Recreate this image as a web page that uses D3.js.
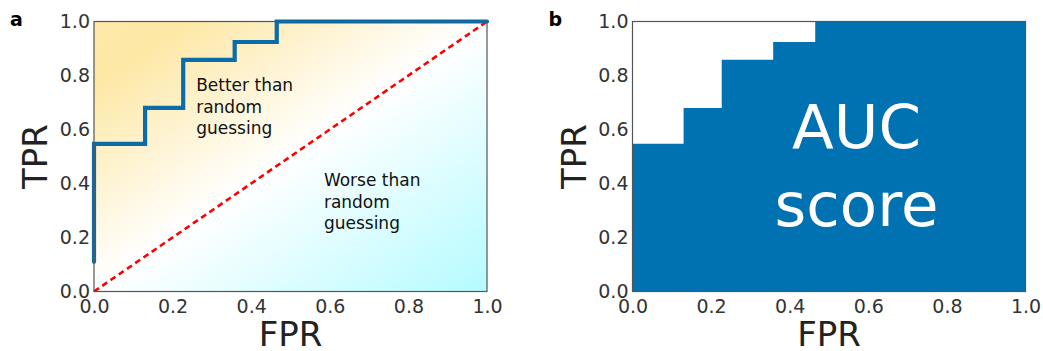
<!DOCTYPE html>
<html>
<head>
<meta charset="utf-8">
<script src="https://cdn.jsdelivr.net/npm/d3@7"></script>
<style>
  body { margin: 0; background: #fff; }
  text { font-family: "DejaVu Sans", sans-serif; }
</style>
</head>
<body>
<div id="chart"></div>
<script>
// ROC curve points (step curve)
var fpr = [0, 0, 0.13, 0.13, 0.227, 0.227, 0.358, 0.358, 0.465, 0.465, 1.0];
var tpr = [0.11, 0.547, 0.547, 0.68, 0.68, 0.858, 0.858, 0.924, 0.924, 1.0, 1.0];
var ticks = [0, 0.2, 0.4, 0.6, 0.8, 1.0];
var panelLabels = ["a", "b"];

var W = 1043, H = 351;
var svg = d3.select("#chart").append("svg")
    .attr("width", W).attr("height", H);

var defs = svg.append("defs");
var grad = defs.append("linearGradient")
    .attr("id", "bg")
    .attr("x1", "0%").attr("y1", "0%")
    .attr("x2", "100%").attr("y2", "100%");
grad.append("stop").attr("offset", "0%").attr("stop-color", "#fee9aa");
grad.append("stop").attr("offset", "12%").attr("stop-color", "#fde8a6");
grad.append("stop").attr("offset", "50%").attr("stop-color", "#ffffff");
grad.append("stop").attr("offset", "100%").attr("stop-color", "#b4fbff");

var panels = [{left: 94, right: 487}, {left: 632.5, right: 1025.5}];
var plotTop = 21.5, plotBottom = 291.5;

var points = fpr.map(function(d, i) { return [d, tpr[i]]; });

panels.forEach(function(p, k) {
  var x = d3.scaleLinear().domain([0, 1]).range([p.left, p.right]);
  var y = d3.scaleLinear().domain([0, 1]).range([plotBottom, plotTop]);
  var g = svg.append("g");

  if (k == 0) {
    g.append("rect")
      .attr("x", x(0)).attr("y", y(1))
      .attr("width", x(1) - x(0)).attr("height", y(0) - y(1))
      .attr("fill", "url(#bg)");

    // random guess diagonal
    g.append("line")
      .attr("x1", x(0)).attr("y1", y(0))
      .attr("x2", x(1)).attr("y2", y(1))
      .attr("stroke", "#ff0000")
      .attr("stroke-width", 2.6)
      .attr("stroke-dasharray", "6,4");

    g.append("path")
      .datum(points)
      .attr("d", d3.line().x(function(d) { return x(d[0]); }).y(function(d) { return y(d[1]); }))
      .attr("fill", "none")
      .attr("stroke", "#0a6ca8")
      .attr("stroke-width", 4.2)
      .attr("stroke-linecap", "round")
      .attr("stroke-linejoin", "miter");

    var t1 = g.append("text").attr("font-size", 17).attr("fill", "#111");
    ["Better than", "random", "guessing"].forEach(function(s, i) {
      t1.append("tspan").attr("x", x(0.26)).attr("y", 91 + i * 21.7).text(s);
    });
    var t2 = g.append("text").attr("font-size", 17).attr("fill", "#111");
    ["Worse than", "random", "guessing"].forEach(function(s, i) {
      t2.append("tspan").attr("x", x(0.585)).attr("y", 186 + i * 21.7).text(s);
    });
  } else {
    var pts = points.slice(1);
    g.append("path")
      .datum(pts)
      .attr("d", d3.area()
        .x(function(d) { return x(d[0]); })
        .y0(y(0))
        .y1(function(d) { return y(d[1]); }))
      .attr("fill", "#0072b2");

    var t3 = g.append("text").attr("text-anchor", "middle")
      .attr("font-size", 61).attr("fill", "#ffffff");
    t3.append("tspan").attr("x", x(0.57)).attr("y", 148).text("AUC");
    t3.append("tspan").attr("x", x(0.57)).attr("y", 226).text("score");
  }

  // frame
  g.append("rect")
    .attr("x", x(0)).attr("y", y(1))
    .attr("width", x(1) - x(0)).attr("height", y(0) - y(1))
    .attr("fill", "none").attr("stroke", "#555").attr("stroke-width", 1.2);

  // axes without tick marks
  var xa = g.append("g")
    .attr("transform", "translate(0," + plotBottom + ")")
    .call(d3.axisBottom(x).tickValues(ticks).tickFormat(d3.format(".1f")).tickSize(0).tickPadding(8));
  var ya = g.append("g")
    .attr("transform", "translate(" + p.left + ",0)")
    .call(d3.axisLeft(y).tickValues(ticks).tickFormat(d3.format(".1f")).tickSize(0).tickPadding(4));
  [xa, ya].forEach(function(a) {
    a.select(".domain").remove();
    a.selectAll("text").attr("font-size", 19).attr("fill", "#333")
      .style("font-family", "DejaVu Sans, sans-serif");
  });

  g.append("text")
    .attr("x", (p.left + p.right) / 2).attr("y", 346)
    .attr("text-anchor", "middle").attr("font-size", 34).attr("fill", "#222")
    .text("FPR");
  g.append("text")
    .attr("transform", "translate(" + (p.left - 47) + "," + ((plotTop + plotBottom) / 2) + ") rotate(-90)")
    .attr("text-anchor", "middle").attr("font-size", 34).attr("fill", "#222")
    .text("TPR");

  g.append("text")
    .attr("x", p.left - 84).attr("y", 26)
    .attr("font-size", 19).attr("font-weight", "bold").attr("fill", "#000")
    .text(panelLabels[k]);
});
</script>
</body>
</html>
